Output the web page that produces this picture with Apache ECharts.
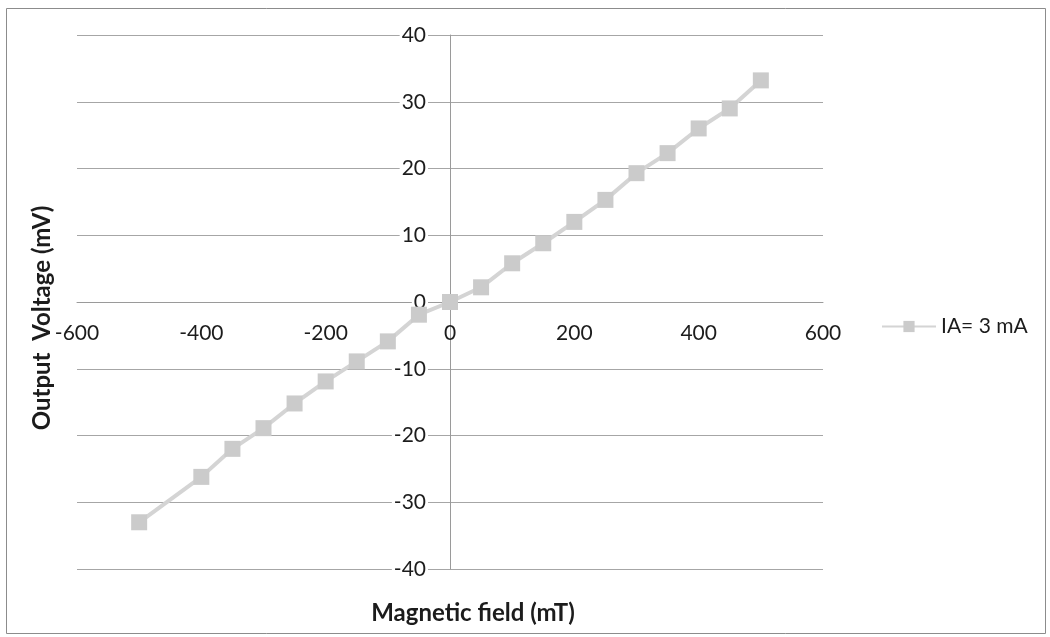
<!DOCTYPE html>
<html>
<head>
<meta charset="utf-8">
<style>
  html, body { margin: 0; padding: 0; background: #ffffff; }
  #chart { width: 1050px; height: 637px; }
</style>
<script src="https://cdn.jsdelivr.net/npm/echarts@6/dist/echarts.min.js"></script>
</head>
<body>
<div id="chart"></div>
<script>
// Hall sensor response: output voltage vs. applied magnetic field
const fieldMT = [-500, -400, -350, -300, -250, -200, -150, -100, -50, 0,
                 50, 100, 150, 200, 250, 300, 350, 400, 450, 500];
const voltageMV = [-33, -26.2, -22, -18.9, -15.2, -11.9, -8.9, -5.9, -1.9, 0,
                   2.2, 5.8, 8.8, 12, 15.3, 19.3, 22.3, 26, 29, 33.2];
const seriesName = 'IA= 3 mA';
const xTitle = 'Magnetic field (mT)';
const yTitle = 'Output  Voltage (mV)';

const points = fieldMT.map((x, i) => [x, voltageMV[i]]);
const fontFamily = 'Lato, "Open Sans", sans-serif';
const textColor = '#1c1c1c';

// plot box
const gridLeft = 77, gridRight = 227, gridTop = 35, gridBottom = 68;
const plotW = 1050 - gridLeft - gridRight;
const plotH = 637 - gridTop - gridBottom;

const chart = echarts.init(document.getElementById('chart'), null, { renderer: 'canvas' });
chart.setOption({
  backgroundColor: '#ffffff',
  animation: false,
  grid: { left: gridLeft, right: gridRight, top: gridTop, bottom: gridBottom },
  legend: {
    data: [seriesName],
    left: 876,
    top: 311,
    itemWidth: 54,
    itemHeight: 14,
    itemGap: 4,
    textStyle: { fontFamily, fontSize: 21, color: textColor }
  },
  xAxis: {
    type: 'value',
    min: -600,
    max: 600,
    interval: 200,
    position: 'bottom',
    // axes cross in the middle of the plot (at 0, 0)
    offset: -plotH / 2,
    axisLine: { onZero: false, lineStyle: { color: '#9a9a9a', width: 1 } },
    axisTick: { show: false },
    splitLine: { show: false },
    axisLabel: {
      margin: 21,
      fontFamily, fontSize: 21, color: textColor,
      showMinLabel: true, showMaxLabel: true
    }
  },
  yAxis: {
    type: 'value',
    min: -40,
    max: 40,
    interval: 10,
    position: 'left',
    offset: -plotW / 2,
    axisLine: { onZero: false, lineStyle: { color: '#9a9a9a', width: 1 } },
    axisTick: { show: false },
    splitLine: { show: true, lineStyle: { color: '#a6a6a6', width: 1 } },
    axisLabel: {
      margin: 22,
      fontFamily, fontSize: 21, color: textColor,
      backgroundColor: '#ffffff',
      padding: [0, 2, 0, 2]
    }
  },
  series: [{
    name: seriesName,
    type: 'line',
    data: points,
    symbol: 'rect',
    symbolSize: 16,
    lineStyle: { color: '#d4d4d4', width: 4 },
    itemStyle: { color: '#cbcbcb', borderWidth: 0 },
    z: 3
  }],
  graphic: [
    {
      type: 'rect',
      shape: { x: 6.5, y: 8.5, width: 1039, height: 625 },
      style: { fill: 'none', stroke: '#8c8c8c', lineWidth: 1 },
      silent: true, z: -1
    },
    {
      type: 'text',
      x: 42, y: 318,
      rotation: Math.PI / 2,
      style: {
        text: yTitle,
        fontFamily, fontSize: 24, fontWeight: 'bold', fill: textColor,
        align: 'center', verticalAlign: 'middle'
      }
    },
    {
      type: 'text',
      x: 473, y: 613,
      style: {
        text: xTitle,
        fontFamily, fontSize: 24, fontWeight: 'bold', fill: textColor,
        align: 'center', verticalAlign: 'middle'
      }
    }
  ]
});
</script>
</body>
</html>
